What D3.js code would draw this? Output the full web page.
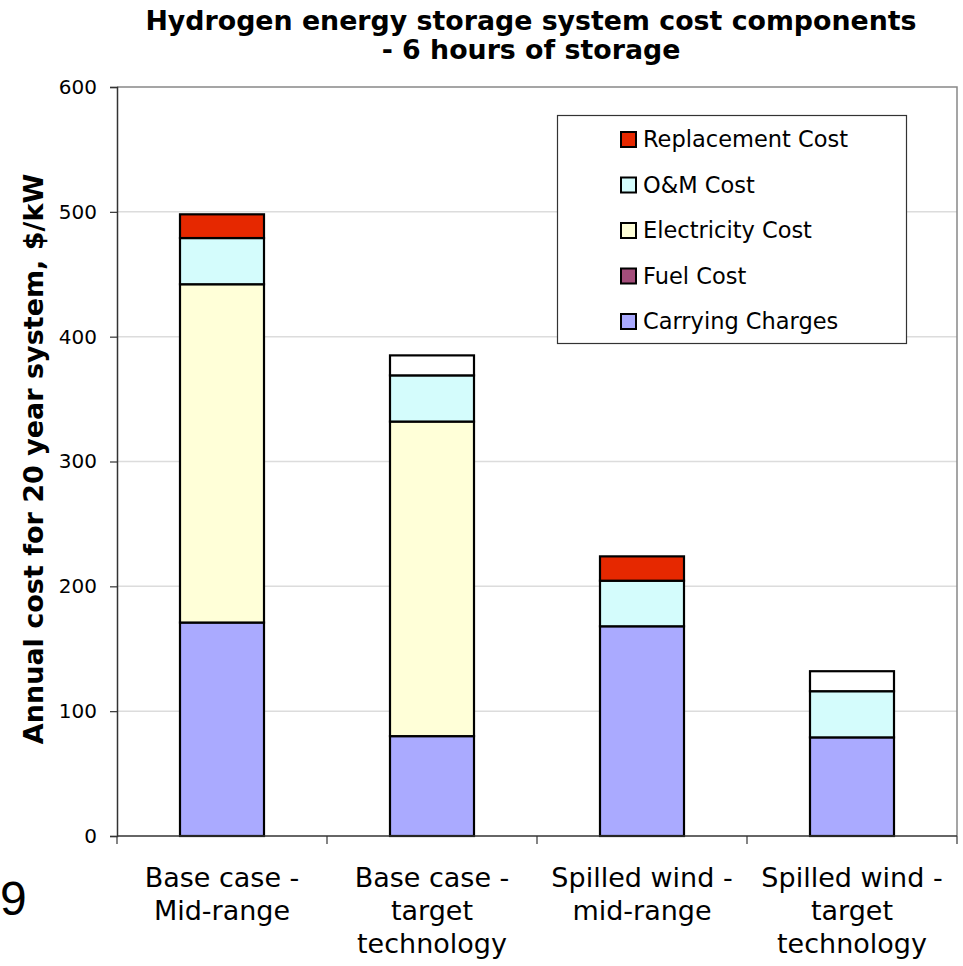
<!DOCTYPE html>
<head>
  <meta charset="utf-8">
  <script src="https://cdn.jsdelivr.net/npm/d3@7"></script>
  <style>
    body { margin:0; background:#fff; }
    text { font-family: "DejaVu Sans", Verdana, sans-serif; fill:#000; }
  </style>
</head>
<body>
  <script>
    var width = 963,
        height = 966;

    // chart data
    var categories = [["Base case -", "Mid-range"], ["Base case -", "target", "technology"],
                      ["Spilled wind -", "mid-range"], ["Spilled wind -", "target", "technology"]];
    var seriesNames = ["Carrying Charges", "Fuel Cost", "Electricity Cost", "O&M Cost", "Replacement Cost"];
    var carrying    = [171, 80, 168, 79];
    var fuel        = [0, 0, 0, 0];
    var electricity = [271, 252, 0, 0];
    var om          = [37, 37, 36.5, 37];
    var replacement = [19, 16, 19.5, 16];
    var yTicks = [0, 100, 200, 300, 400, 500, 600];

    var colors = ["#aaaaff", "#a34d7a", "#ffffd8", "#d4fcfc", "#e62800"];
    // replacement bars for the target-technology cases are drawn unfilled
    var whiteFill = { 4: [1, 3] };

    var left = 117, plotW = 840;

    var svg = d3.select("body").append("svg")
      .attr("width", width)
      .attr("height", height);

    var x = d3.scaleBand().domain(d3.range(categories.length)).range([left, left + plotW]);
    var y = d3.scaleLinear().domain([0, 600]).range([836, 87]);

    // gridlines
    svg.append("g").selectAll("line")
      .data(yTicks.filter(function(d) { return d > 0 && d < 600; }))
      .enter().append("line")
      .attr("x1", left).attr("x2", left + plotW)
      .attr("y1", function(d) { return y(d); }).attr("y2", function(d) { return y(d); })
      .attr("stroke", "#dcdcdc").attr("stroke-width", 1.5);

    // plot frame top/right
    svg.append("path")
      .attr("d", "M" + left + "," + y(600) + "H" + (left + plotW) + "V" + y(0))
      .attr("fill", "none").attr("stroke", "#888").attr("stroke-width", 1.5);

    // stacked bars
    var rows = categories.map(function(c, i) {
      return { i: i, vals: [carrying[i], fuel[i], electricity[i], om[i], replacement[i]] };
    });
    var stack = d3.stack().keys(d3.range(5)).value(function(d, k) { return d.vals[k]; });
    var layers = stack(rows);

    var barW = x.bandwidth() * 0.4;
    layers.forEach(function(layer, k) {
      svg.append("g").selectAll("rect")
        .data(layer.filter(function(d) { return d[1] - d[0] > 0; }))
        .enter().append("rect")
        .attr("x", function(d) { return x(d.data.i) + (x.bandwidth() - barW) / 2; })
        .attr("width", barW)
        .attr("y", function(d) { return y(d[1]); })
        .attr("height", function(d) { return y(d[0]) - y(d[1]); })
        .attr("fill", function(d) {
          return (whiteFill[k] && whiteFill[k].indexOf(d.data.i) >= 0) ? "#fff" : colors[k];
        })
        .attr("stroke", "#000").attr("stroke-width", 2.2);
    });

    // y axis
    var yAxis = svg.append("g")
      .attr("transform", "translate(" + left + ",0)")
      .call(d3.axisLeft(y).tickValues(yTicks).tickSize(7).tickPadding(13));
    yAxis.select(".domain").attr("stroke", "#333").attr("stroke-width", 1.5);
    yAxis.selectAll(".tick line").attr("stroke", "#333").attr("stroke-width", 1.2);
    yAxis.selectAll("text").style("font-size", "20px").style("font-family", "DejaVu Sans");

    // x axis
    var xAxisG = svg.append("g");
    xAxisG.append("line")
      .attr("x1", left).attr("x2", left + plotW)
      .attr("y1", y(0)).attr("y2", y(0))
      .attr("stroke", "#333").attr("stroke-width", 1.5);
    xAxisG.selectAll("line.tk")
      .data(d3.range(categories.length + 1))
      .enter().append("line").attr("class", "tk")
      .attr("x1", function(d) { return left + d * x.bandwidth(); })
      .attr("x2", function(d) { return left + d * x.bandwidth(); })
      .attr("y1", y(0)).attr("y2", y(0) + 8)
      .attr("stroke", "#333").attr("stroke-width", 1.2);

    var lab = svg.append("g").selectAll("text")
      .data(categories)
      .enter().append("text")
      .attr("text-anchor", "middle")
      .style("font-size", "27px");
    lab.each(function(lines, i) {
      var t = d3.select(this);
      lines.forEach(function(s, j) {
        t.append("tspan")
          .attr("x", x(i) + x.bandwidth() / 2)
          .attr("y", 887 + j * 33)
          .text(s);
      });
    });

    // title
    svg.append("text").attr("x", 531).attr("y", 30).attr("text-anchor", "middle")
      .style("font-size", "26.8px").style("font-weight", "bold")
      .text("Hydrogen energy storage system cost components");
    svg.append("text").attr("x", 531).attr("y", 59).attr("text-anchor", "middle")
      .style("font-size", "26.8px").style("font-weight", "bold")
      .text("- 6 hours of storage");

    // y title
    svg.append("text")
      .attr("transform", "translate(43,459) rotate(-90)")
      .attr("text-anchor", "middle")
      .style("font-size", "27px").style("font-weight", "bold")
      .text("Annual cost for 20 year system, $/kW");

    // stray page number
    svg.append("text").attr("x", 0).attr("y", 915)
      .style("font-family", "Liberation Sans").style("font-size", "48px")
      .text("9");

    // legend
    var lg = svg.append("g");
    lg.append("rect").attr("x", 557.5).attr("y", 115.5).attr("width", 349).attr("height", 228)
      .attr("fill", "#fff").attr("stroke", "#333").attr("stroke-width", 1.2);
    var order = [4, 3, 2, 1, 0];
    order.forEach(function(k, j) {
      var cy = 139.5 + j * 45.5;
      lg.append("rect").attr("x", 621).attr("y", cy - 7.5).attr("width", 15).attr("height", 15)
        .attr("fill", colors[k]).attr("stroke", "#000").attr("stroke-width", 2);
      lg.append("text").attr("x", 643).attr("y", cy + 7.5)
        .style("font-size", "22.5px")
        .text(seriesNames[k]);
    });
  </script>
</body>
